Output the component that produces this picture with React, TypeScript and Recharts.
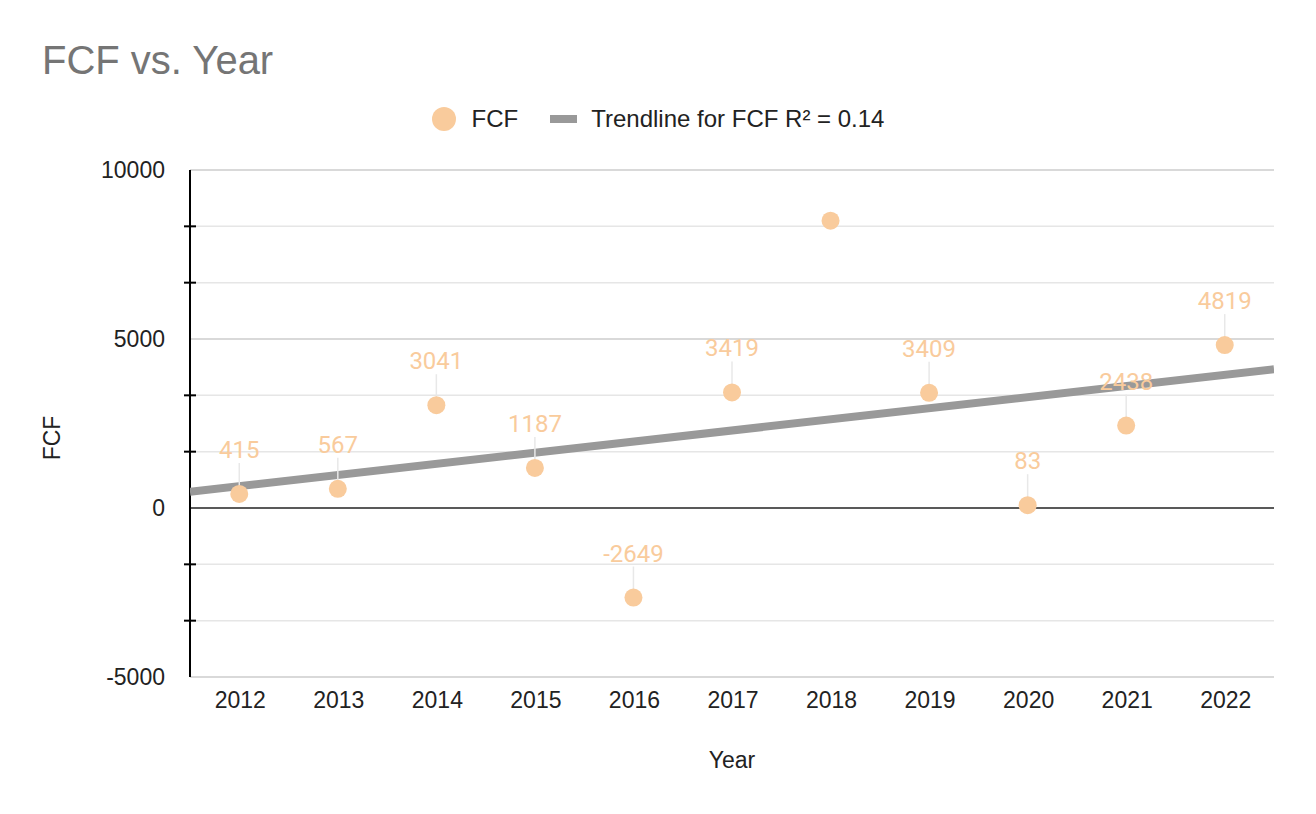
import React from 'react';
import { ScatterChart, Scatter, XAxis, YAxis, CartesianGrid, ReferenceLine, Label } from 'recharts';

const years = [2012, 2013, 2014, 2015, 2016, 2017, 2018, 2019, 2020, 2021, 2022];
const fcfValues = [415, 567, 3041, 1187, -2649, 3419, 8500, 3409, 83, 2438, 4819];

const yMajorTicks = [-5000, 0, 5000, 10000];
const yMinorTicks = [-3333.33, -1666.67, 1666.67, 3333.33, 6666.67, 8333.33];
const xDomain = [2011.5, 2022.5];
const yDomain = [-5000, 10000];

const data = years.map((year, i) => ({ year, fcf: fcfValues[i] }));

// least squares trendline over the data, drawn across the whole x domain
const n = data.length;
const meanX = data.reduce((s, d) => s + d.year, 0) / n;
const meanY = data.reduce((s, d) => s + d.fcf, 0) / n;
const sxy = data.reduce((s, d) => s + (d.year - meanX) * (d.fcf - meanY), 0);
const sxx = data.reduce((s, d) => s + (d.year - meanX) ** 2, 0);
const slope = sxy / sxx;
const trendData = xDomain.map(x => ({ year: x, fcf: meanY + slope * (x - meanX) }));

const POINT_COLOR = '#f9cb9c';
const TREND_COLOR = '#999999';
const FONT = '"Liberation Sans", Arial, sans-serif';
const PLOT_TOP = 170;

function FcfPoint(props: any) {
  const { cx, cy, payload } = props;
  const labelY = cy - 44;
  const showLabel = labelY - 12 > PLOT_TOP;
  return (
    <g>
      {showLabel && <line x1={cx} x2={cx} y1={cy - 31} y2={cy} stroke="#e8e8e8" strokeWidth={1.5} />}
      <circle cx={cx} cy={cy} r={9} fill={POINT_COLOR} />
      {showLabel && (
        <text x={cx} y={labelY} textAnchor="middle" dominantBaseline="central" fill={POINT_COLOR} fontSize={24} fontFamily="Roboto">
          {payload.fcf}
        </text>
      )}
    </g>
  );
}

function XTick(props: any) {
  const { x, y, payload } = props;
  return (
    <text x={x + 1} y={y + 23} textAnchor="middle" dominantBaseline="central" fill="#222" fontSize={23} fontFamily={FONT}>
      {payload.value}
    </text>
  );
}

function YTick(props: any) {
  const { x, y, payload } = props;
  if (yMajorTicks.includes(payload.value)) {
    return (
      <text x={x - 25} y={y} textAnchor="end" dominantBaseline="central" fill="#222" fontSize={23} fontFamily={FONT}>
        {payload.value}
      </text>
    );
  }
  return <line x1={x - 6} x2={x + 6} y1={y} y2={y} stroke="#000" strokeWidth={2} />;
}

export default function App() {
  const allYTicks = [...yMajorTicks, ...yMinorTicks].sort((a, b) => a - b);
  return (
    <div style={{ position: 'absolute', left: 0, top: 0, width: 1316, height: 814, background: '#fff', fontFamily: FONT }}>
      <div style={{ position: 'absolute', left: 42, top: 37, fontSize: 40, lineHeight: '46px', color: '#757575' }}>
        FCF vs. Year
      </div>
      <div
        style={{
          position: 'absolute', top: 103, left: 0, width: 1316, height: 32,
          display: 'flex', justifyContent: 'center', alignItems: 'center', fontSize: 24, color: '#222',
        }}
      >
        <span style={{ width: 24, height: 24, borderRadius: 12, background: POINT_COLOR, display: 'inline-block' }} />
        <span style={{ marginLeft: 16 }}>FCF</span>
        <span style={{ marginLeft: 32, width: 27, height: 8, background: TREND_COLOR, display: 'inline-block' }} />
        <span style={{ marginLeft: 14 }}>Trendline for FCF R² = 0.14</span>
      </div>
      <ScatterChart width={1316} height={814} margin={{ top: 170, right: 42, bottom: 77, left: 0 }}>
        <CartesianGrid vertical={false} horizontalValues={yMinorTicks} stroke="#e6e6e6" strokeWidth={1.5} />
        <CartesianGrid vertical={false} horizontalValues={[-5000, 5000, 10000]} stroke="#cccccc" strokeWidth={1.5} />
        <ReferenceLine y={0} stroke="#222" strokeWidth={1.5} />
        <XAxis
          type="number"
          dataKey="year"
          domain={xDomain}
          ticks={years}
          interval={0}
          allowDataOverflow
          axisLine={false}
          tickLine={false}
          tickSize={0}
          tickMargin={0}
          height={60}
          tick={<XTick />}
        >
          <Label
            content={(p: any) => (
              <text x={p.viewBox.x + p.viewBox.width / 2} y={p.viewBox.y + 83} textAnchor="middle" dominantBaseline="central" fill="#222" fontSize={23} fontFamily={FONT}>
                Year
              </text>
            )}
          />
        </XAxis>
        <YAxis
          type="number"
          dataKey="fcf"
          domain={yDomain}
          ticks={allYTicks}
          interval={0}
          allowDataOverflow
          width={190}
          axisLine={{ stroke: '#000', strokeWidth: 2 }}
          tickLine={false}
          tickSize={0}
          tickMargin={0}
          tick={<YTick />}
        >
          <Label
            content={() => (
              <text x={52} y={438} transform="rotate(-90 52 438)" textAnchor="middle" dominantBaseline="central" fill="#222" fontSize={23} fontFamily={FONT}>
                FCF
              </text>
            )}
          />
        </YAxis>
        <Scatter
          name="Trendline for FCF"
          data={trendData}
          line={{ stroke: TREND_COLOR, strokeWidth: 8 }}
          shape={() => <g />}
          isAnimationActive={false}
        />
        <Scatter name="FCF" data={data} shape={<FcfPoint />} isAnimationActive={false} />
      </ScatterChart>
    </div>
  );
}
